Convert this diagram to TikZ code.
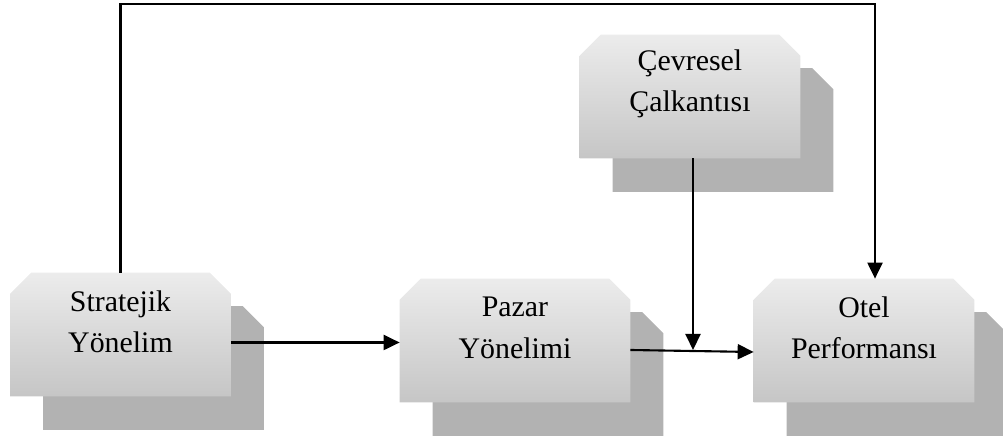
\documentclass[tikz,border=0pt]{standalone}
\usepackage{fontspec}
\setmainfont{Liberation Serif}
\usetikzlibrary{calc, positioning, arrows.meta}

% kutu: sol ve sag ust koseleri pahli
\newcommand{\pahli}[2]{%
    \path[#2] (#1.south west) -- ([yshift=-0.42cm]#1.north west) -- ([xshift=0.42cm]#1.north west)
        -- ([xshift=-0.42cm]#1.north east) -- ([yshift=-0.42cm]#1.north east) -- (#1.south east) -- cycle;}

\begin{document}
\begin{tikzpicture}[
        kutu/.style = {rectangle, inner sep=0pt, minimum width=4.4cm, minimum height=2.46cm, node contents={}},
        on/.style = {top color=gray!15, bottom color=gray!45},
        golge/.style = {fill=gray!60},
        yazi/.style = {align=center, font=\fontsize{17}{23.5}\selectfont},
        ok/.style = {line width=1.2pt, -{Triangle[length=0.32cm, width=0.3cm]}}
    ]
    \useasboundingbox (0,0) rectangle (20.06,8.76);

    %Kutular
    \node at(2.41,2.07)(strat)[kutu];
    \node at([shift={(0.66,-0.67)}]strat.center)(strat_g)[kutu];
    \pahli{strat_g}{golge}
    \pahli{strat}{on}
    \node at([yshift=0.25cm]strat.center)(strat_yazi)[yazi]{Stratejik\\Yönelim};

    \node at(10.3,1.95)(pazar)[kutu, minimum width=4.6cm];
    \node at([shift={(0.66,-0.67)}]pazar.center)(pazar_g)[kutu, minimum width=4.6cm];
    \pahli{pazar_g}{golge}
    \pahli{pazar}{on}
    \node at([yshift=0.25cm]pazar.center)(pazar_yazi)[yazi]{Pazar\\Yönelimi};

    \node at(17.28,1.95)(otel)[kutu];
    \node at([shift={(0.66,-0.67)}]otel.center)(otel_g)[kutu];
    \pahli{otel_g}{golge}
    \pahli{otel}{on}
    \node at([yshift=0.25cm]otel.center)(otel_yazi)[yazi]{Otel\\Performansı};

    \node at(13.8,6.83)(cevre)[kutu];
    \node at([shift={(0.66,-0.67)}]cevre.center)(cevre_g)[kutu];
    \pahli{cevre_g}{golge}
    \pahli{cevre}{on}
    \node at([yshift=0.25cm]cevre.center)(cevre_yazi)[yazi]{Çevresel\\Çalkantısı};

    %Oklar
    \coordinate (kesisim) at (13.86,1.76);
    \coordinate (ust) at (17.5,8.68);
    \draw[ok] ([yshift=-0.16cm]strat.east) -- ([yshift=-0.04cm]pazar.west);
    \draw[ok] ([yshift=-0.19cm]pazar.east) -- ([yshift=-0.23cm]otel.west);
    \draw[ok] (cevre.south -| kesisim) -- (kesisim);
    \draw[ok] (strat.north) |- (ust) -- (ust |- otel.north);

\end{tikzpicture}
\end{document}
